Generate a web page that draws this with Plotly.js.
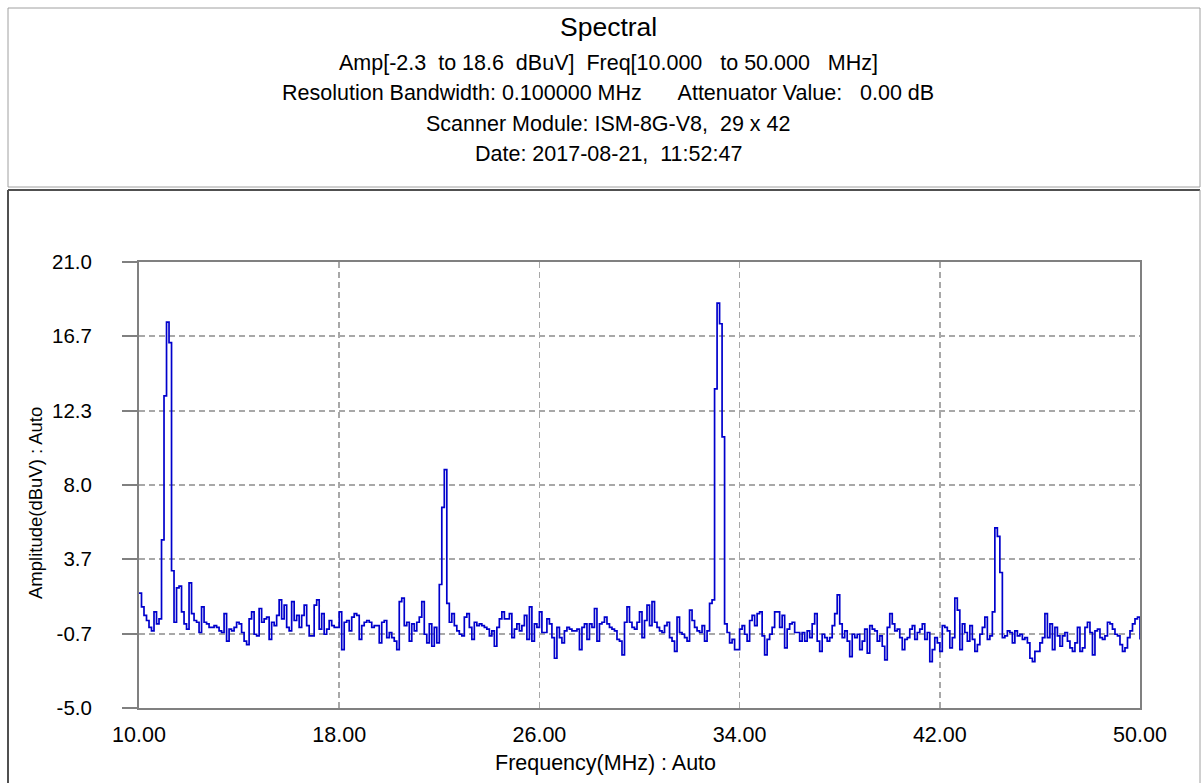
<!DOCTYPE html>
<html>
<head>
<meta charset="utf-8">
<script src="https://cdn.plot.ly/plotly-3.0.1.min.js"></script>
<style>
  html, body { margin: 0; padding: 0; background: #ffffff; }
  #chart { width: 1203px; height: 783px; }
</style>
</head>
<body>
<div id="chart"></div>
<script>
// ---- data ----
const freqStart = 10.0;   // MHz
const freqStep = 0.1;     // MHz per sweep point

const amplitude = [
  // 10.0 - 10.9
  1.7, 0.9, 0.4, 0.1, -0.3, -0.5, 0.6, -0.1, 0.2, 4.8,
  // 11.0 - 11.9
  13.2, 17.5, 16.3, 3.0, 0.0, 2.0, 2.1, 0.6, -0.1, -0.4,
  // 12.0 - 12.9
  2.3, 0.5, 0.1, 0.0, -0.6, 0.9, 0.0, -0.1, -0.3, -0.3,
  // 13.0 - 13.9
  -0.2, -0.3, -0.5, -0.6, 0.5, -1.1, -0.4, -0.5, -0.3, 0.0,
  // 14.0 - 14.9
  -0.1, -0.6, -1.1, -1.3, 0.2, 0.6, -0.7, -0.8, 0.8, 0.0,
  // 15.0 - 15.9
  0.2, 0.3, -1.0, 0.0, -0.2, 0.4, 1.3, 0.2, 1.0, -0.3,
  // 16.0 - 16.9
  -0.5, 1.2, 0.1, 0.4, -0.3, 0.4, 1.0, -0.2, -0.8, -0.8,
  // 17.0 - 17.9
  1.0, 1.3, -0.4, 0.5, -0.7, -0.4, 0.1, -0.2, -0.3, -0.3,
  // 18.0 - 18.9
  0.6, -1.6, 0.0, 0.1, -0.5, 0.3, 0.5, 0.4, -1.0, -0.2,
  // 19.0 - 19.9
  0.0, 0.1, 0.0, -0.3, -0.2, -0.2, -1.2, 0.0, 0.1, -0.9,
  // 20.0 - 20.9
  -0.6, -0.9, -1.1, -1.6, 1.2, 1.4, -0.2, 0.0, -1.1, -0.1,
  // 21.0 - 21.9
  -0.5, 0.0, 0.3, 1.2, -0.7, -1.2, -0.1, -1.4, -0.3, -1.2,
  // 22.0 - 22.9
  2.2, 6.7, 8.9, 1.1, 0.0, 0.5, -0.2, -0.5, -0.7, -0.8,
  // 23.0 - 23.9
  0.3, 0.5, -0.3, -1.0, 0.0, -0.2, -0.1, -0.2, -0.3, -0.4,
  // 24.0 - 24.9
  -0.8, -0.5, -1.4, -0.3, 0.2, 0.6, 0.2, 0.2, 0.5, -0.9,
  // 25.0 - 25.9
  -0.4, -0.1, -0.5, -0.2, 0.4, -1.0, 0.9, -1.1, -0.1, -0.3,
  // 26.0 - 26.9
  0.6, -0.6, -0.6, 0.2, -0.1, -0.9, -2.1, -0.3, -0.9, -1.2,
  // 27.0 - 27.9
  -0.5, -0.3, -0.4, -0.5, -0.5, -0.4, -1.6, -0.3, -0.1, -1.0,
  // 28.0 - 28.9
  -0.1, -0.3, 0.8, -1.1, -0.1, 0.0, 0.3, -0.1, -0.3, -0.4,
  // 29.0 - 29.9
  -0.5, -1.0, -1.1, -1.9, 0.0, 0.9, 0.0, -0.3, -0.4, 0.0,
  // 30.0 - 30.9
  0.6, -0.9, 0.1, 1.0, -0.2, 1.2, 0.0, -0.3, -0.5, -0.6,
  // 31.0 - 31.9
  -0.2, 0.0, -0.9, -1.1, -1.7, 0.3, -0.6, -0.7, -0.9, -1.1,
  // 32.0 - 32.9
  0.7, 0.1, -0.3, -0.5, -0.6, -0.2, -1.1, -0.5, 1.1, 1.3,
  // 33.0 - 33.9
  13.6, 18.6, 17.4, 10.8, -0.1, -0.6, -1.2, -1.0, -1.6, -1.6,
  // 34.0 - 34.9
  -0.4, -0.2, -0.7, -1.1, 0.1, 0.4, -0.2, 0.5, 0.6, -0.8,
  // 35.0 - 35.9
  -1.9, -1.0, -0.7, -0.3, 0.6, 0.6, -0.3, 0.4, -1.5, -0.4,
  // 36.0 - 36.9
  -0.1, 0.0, -0.6, -0.6, -1.1, -0.6, -1.1, -0.5, -0.9, -0.1,
  // 37.0 - 37.9
  0.5, -1.1, -1.7, -0.7, -0.9, -1.1, -0.9, -0.2, 0.5, 1.6,
  // 38.0 - 38.9
  -0.1, -0.9, -0.5, -1.1, -2.0, -0.7, -0.9, -0.7, -1.6, -1.1,
  // 39.0 - 39.9
  -0.4, -1.8, -0.2, -0.4, -0.5, -1.1, -0.8, -1.4, -2.2, -0.3,
  // 40.0 - 40.9
  0.5, -0.1, -0.5, -0.4, -0.9, -1.6, -1.0, -0.9, -0.4, -0.2,
  // 41.0 - 41.9
  -1.0, -0.6, -0.4, -0.1, -1.0, -0.6, -2.3, -1.6, -0.9, -1.2,
  // 42.0 - 42.9
  -1.7, -0.2, -0.3, -0.5, -1.5, -0.9, 1.4, 0.7, -1.6, -0.1,
  // 43.0 - 43.9
  -0.6, -1.1, -0.2, -1.0, -1.7, -1.3, -0.7, -0.3, 0.3, -1.0,
  // 44.0 - 44.9
  -0.8, 0.6, 5.5, 5.0, 2.9, -0.9, -0.8, -0.5, -0.6, -1.2,
  // 45.0 - 45.9
  -0.5, -0.8, -0.7, -1.0, -0.9, -1.2, -2.1, -2.3, -1.7, -1.7,
  // 46.0 - 46.9
  -1.2, -0.9, 0.5, -0.9, -0.1, -1.6, -0.3, -0.8, -1.4, -0.8,
  // 47.0 - 47.9
  -0.6, -1.1, -1.5, -1.7, -1.2, -0.3, -1.7, -1.5, -0.3, 0.0,
  // 48.0 - 48.9
  -0.6, -1.9, -0.5, -0.4, -0.9, -1.0, -0.8, 0.0, -0.1, -0.4,
  // 49.0 - 49.9
  -0.7, -0.8, -1.3, -1.7, -1.5, -0.9, -0.5, -0.1, 0.2, 0.3,
  // 50.0
  -1.0
];

const xTickVals = [10, 18, 26, 34, 42, 50];
const xTickText = ["10.00", "18.00", "26.00", "34.00", "42.00", "50.00"];
const yTickVals = [-5.0, -0.7, 3.7, 8.0, 12.3, 16.7, 21.0];
const yTickText = ["-5.0", "-0.7", "3.7", "8.0", "12.3", "16.7", "21.0"];

const titleLines = [
  "Spectral",
  "Amp[-2.3\u00a0\u00a0to 18.6\u00a0\u00a0dBuV]\u00a0\u00a0Freq[10.000\u00a0\u00a0\u00a0to 50.000\u00a0\u00a0\u00a0MHz]",
  "Resolution Bandwidth: 0.100000 MHz\u00a0\u00a0\u00a0\u00a0\u00a0\u00a0Attenuator Value:\u00a0\u00a0\u00a00.00 dB",
  "Scanner Module: ISM-8G-V8,\u00a0\u00a029 x 42",
  "Date: 2017-08-21,\u00a0\u00a011:52:47"
];
const xTitle = "Frequency(MHz) : Auto";
const yTitle = "Amplitude(dBuV) : Auto";

// ---- build ----
const freq = amplitude.map((_, i) => +(freqStart + i * freqStep).toFixed(2));

const FONT = "Liberation Sans, Arial, sans-serif";

const trace = {
  x: freq,
  y: amplitude,
  type: "scatter",
  mode: "lines",
  line: { color: "#0000cc", width: 1.7, shape: "hv" },
  hoverinfo: "skip"
};

const titleY = [27, 63, 93, 124, 154];
const titleSize = [26.5, 21.5, 21.5, 21.5, 21.5];
const PLOT_L = 139, PLOT_B = 708;

const annotations = titleLines.map((t, i) => ({
  text: t, xref: "paper", yref: "paper", x: 0, y: 0,
  xanchor: "center", yanchor: "middle",
  xshift: 608 - PLOT_L, yshift: PLOT_B - titleY[i],
  showarrow: false,
  font: { family: FONT, size: titleSize[i], color: "#000000" }
}));
annotations.push({
  text: xTitle, xref: "paper", yref: "paper", x: 0, y: 0,
  xanchor: "center", yanchor: "middle",
  xshift: 605 - PLOT_L, yshift: PLOT_B - 763,
  showarrow: false,
  font: { family: FONT, size: 21.5, color: "#000000" }
});
annotations.push({
  text: yTitle, xref: "paper", yref: "paper", x: 0, y: 0,
  xanchor: "center", yanchor: "middle", textangle: -90,
  xshift: 35 - PLOT_L, yshift: PLOT_B - 503,
  showarrow: false,
  font: { family: FONT, size: 18.5, color: "#000000" }
});

function pxShape(x0, y0, x1, y1, color, width, type) {
  return {
    type: type || "line",
    xref: "paper", yref: "paper",
    xsizemode: "pixel", ysizemode: "pixel",
    xanchor: 0, yanchor: 0,
    x0: x0 - PLOT_L, x1: x1 - PLOT_L,
    y0: PLOT_B - y0, y1: PLOT_B - y1,
    line: { color: color, width: width },
    layer: "below"
  };
}

const shapes = [
  pxShape(8, 8, 1200, 187, "#a0a0a0", 1, "rect"),
  pxShape(8, 190, 1200, 190, "#505050", 2),
  pxShape(8, 190, 8, 790, "#505050", 2),
  pxShape(1200, 190, 1200, 790, "#a0a0a0", 1)
];

const layout = {
  width: 1203,
  height: 783,
  margin: { l: 139, r: 63, t: 262, b: 75 },
  paper_bgcolor: "#ffffff",
  plot_bgcolor: "#ffffff",
  showlegend: false,
  xaxis: {
    range: [10, 50],
    tickmode: "array",
    tickvals: xTickVals,
    ticktext: xTickText,
    ticks: "",
    ticklabelstandoff: 6,
    tickfont: { family: FONT, size: 21.5, color: "#000000" },
    showgrid: true,
    gridcolor: "#a8a8a8",
    gridwidth: 1.5,
    griddash: "6px,4px",
    zeroline: false,
    showline: true,
    linecolor: "#808080",
    linewidth: 2,
    mirror: true,
    fixedrange: true
  },
  yaxis: {
    range: [-5, 21],
    tickmode: "array",
    tickvals: yTickVals,
    ticktext: yTickText,
    ticks: "outside",
    ticklen: 15,
    tickwidth: 2,
    tickcolor: "#808080",
    ticklabelstandoff: 26,
    tickfont: { family: FONT, size: 20.5, color: "#000000" },
    showgrid: true,
    gridcolor: "#a8a8a8",
    gridwidth: 1.5,
    griddash: "6px,4px",
    zeroline: false,
    showline: true,
    linecolor: "#808080",
    linewidth: 2,
    mirror: true,
    fixedrange: true
  },
  annotations: annotations,
  shapes: shapes
};

Plotly.newPlot("chart", [trace], layout, { displayModeBar: false, staticPlot: true });
</script>
</body>
</html>
